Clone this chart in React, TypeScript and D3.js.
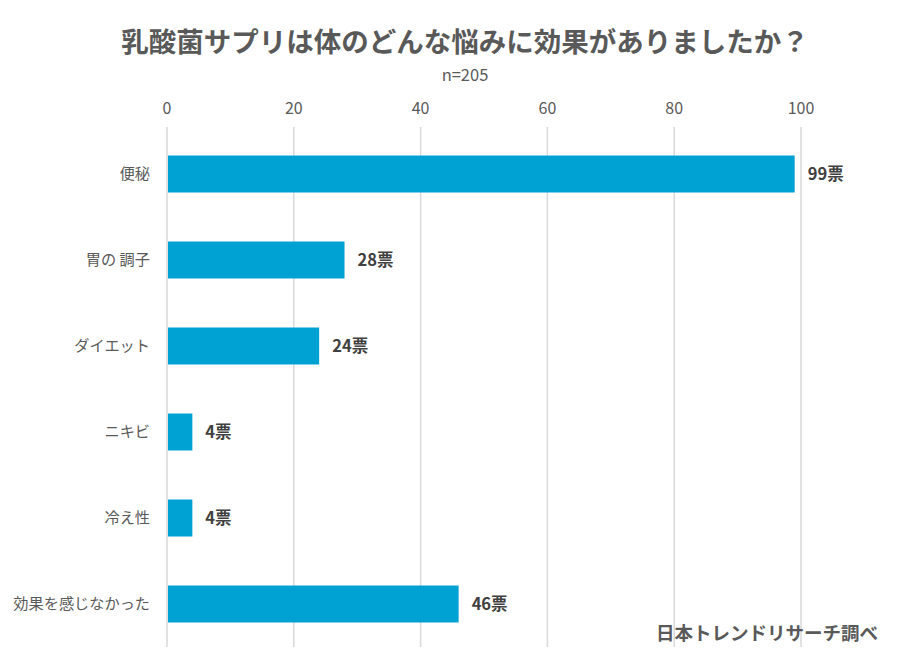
import React from "react";
import * as d3 from "d3";

const categories = ["便秘", "胃の 調子", "ダイエット", "ニキビ", "冷え性", "効果を感じなかった"];
const values = [99, 28, 24, 4, 4, 46];
const ticks = [0, 20, 40, 60, 80, 100];
const title = "乳酸菌サプリは体のどんな悩みに効果がありましたか？";
const subtitle = "n=205";
const footer = "日本トレンドリサーチ調べ";
const unit = "票";

const W = 902;
const H = 671;
const FONT = "'Noto Sans CJK JP', 'Noto Sans', sans-serif";

export default function App() {
  const x = d3.scaleLinear().domain([0, 100]).range([167, 801]);
  const y = d3.scaleBand<string>().domain(categories).range([131, 647]).paddingInner(0.57).paddingOuter(0.285);
  return (
    <svg width={W} height={H} style={{ position: "absolute", left: 0, top: 0, background: "#fff" }} fontFamily={FONT}>
      <rect width={W} height={H} fill="#fff" />
      <text x={465} y={52} textAnchor="middle" fontSize={27.5} fontWeight="bold" fill="#595959">{title}</text>
      <text x={465} y={81} textAnchor="middle" fontSize={16.5} fill="#595959">{subtitle}</text>
      {ticks.map((t) => (
        <g key={t}>
          <line x1={x(t)} x2={x(t)} y1={127} y2={647} stroke="#d9d9d9" strokeWidth={1.5} />
          <text x={x(t)} y={114} textAnchor="middle" fontSize={16} fill="#595959">{t}</text>
        </g>
      ))}
      {categories.map((c, i) => (
        <g key={c}>
          <rect x={x(0) + 1} y={y(c)} width={x(values[i]) - x(0) - 1} height={y.bandwidth()} fill="#00A1D3" />
          <text x={150} y={(y(c) as number) + y.bandwidth() / 2} dy="0.35em" textAnchor="end" fontSize={15.2} fill="#595959">{c}</text>
          <text x={x(values[i]) + 13} y={(y(c) as number) + y.bandwidth() / 2} dy="0.35em" fontSize={16.5} fontWeight="bold" fill="#404040">{values[i]}{unit}</text>
        </g>
      ))}
      <text x={767} y={640} textAnchor="middle" fontSize={18.5} fontWeight="bold" fill="#595959">{footer}</text>
    </svg>
  );
}
